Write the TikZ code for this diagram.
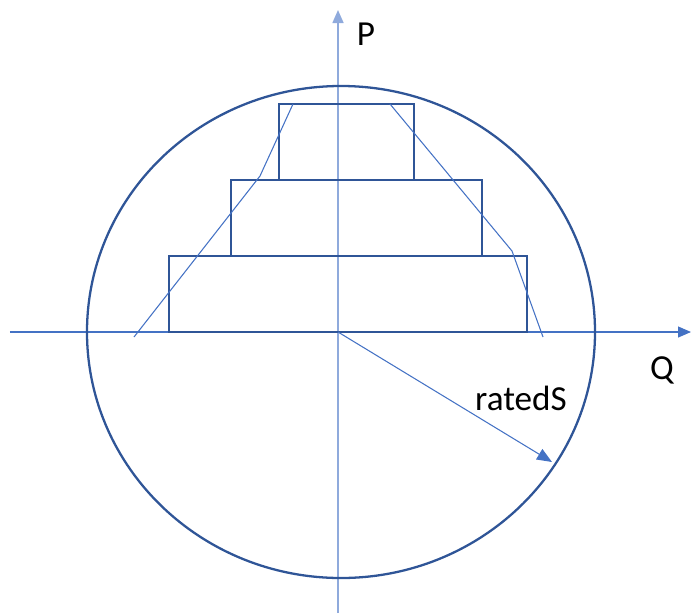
\documentclass[tikz,border=0pt]{standalone}
\usepackage{fontspec}
\setmainfont{Carlito}
\usetikzlibrary{arrows.meta,positioning}
\definecolor{ringblue}{RGB}{47,85,151}
\definecolor{lineblue}{RGB}{68,114,196}
\definecolor{paleblue}{RGB}{143,170,220}
\tikzset{
  tier/.style={draw=ringblue, line width=1.3pt, inner sep=0pt, outer sep=0pt,
               minimum height=1.52cm},
  axarr/.style={-{Triangle[length=2.6mm, width=2.2mm]}, lineblue, line width=0.6pt},
  limline/.style={lineblue, line width=0.6pt},
  radarr/.style={-{Triangle[length=3mm, width=2.4mm]}, lineblue, line width=0.6pt},
  axlab/.style={font=\fontsize{20}{24}\selectfont, text=black},
}

\begin{document}
\begin{tikzpicture}
    \useasboundingbox (-6.76,-5.62) rectangle (7.08,6.64);
    % axes
    \coordinate (O) at (0,0);
    \coordinate (qstart) at (-6.56,0); \coordinate (qend) at (7.06,0);
    \coordinate (pstart) at (0,-5.62); \coordinate (pend) at (0,6.44);
    \draw[axarr] (qstart) -- (qend);
    \draw[axarr, draw=paleblue, line width=0.9pt] (pstart) -- (pend);
    \node[axlab] (plab) at (0.56,5.96) {P};
    \node[axlab] (qlab) at (6.48,-0.76) {Q};
    % rated circle
    \draw[ringblue, line width=1.3pt] (0.06,0) ellipse (5.08cm and 4.92cm);
    % stacked tiers
    \node[tier, minimum width=7.16cm] (low) at (0.20,0.76) {};
    \node[tier, minimum width=5.02cm] (mid) at (0.37,2.28) {};
    \node[tier, minimum width=2.70cm] (top) at (0.17,3.80) {};
    % limit curves
    \coordinate (la) at (-4.08,-0.10); \coordinate (lb) at (-1.56,3.12);
    \coordinate (lc) at (-0.90,4.56);
    \coordinate (ra) at (1.04,4.56); \coordinate (rb) at (3.48,1.62);
    \coordinate (rc) at (4.10,-0.10);
    \draw[limline] (la) -- (lb) -- (lc);
    \draw[limline] (ra) -- (rb) -- (rc);
    % radius
    \coordinate (rim) at (4.28,-2.60);
    \draw[radarr] (O) -- (rim);
    \node[axlab] (slab) at (3.66,-1.32) {ratedS};
  \end{tikzpicture}
\end{document}
